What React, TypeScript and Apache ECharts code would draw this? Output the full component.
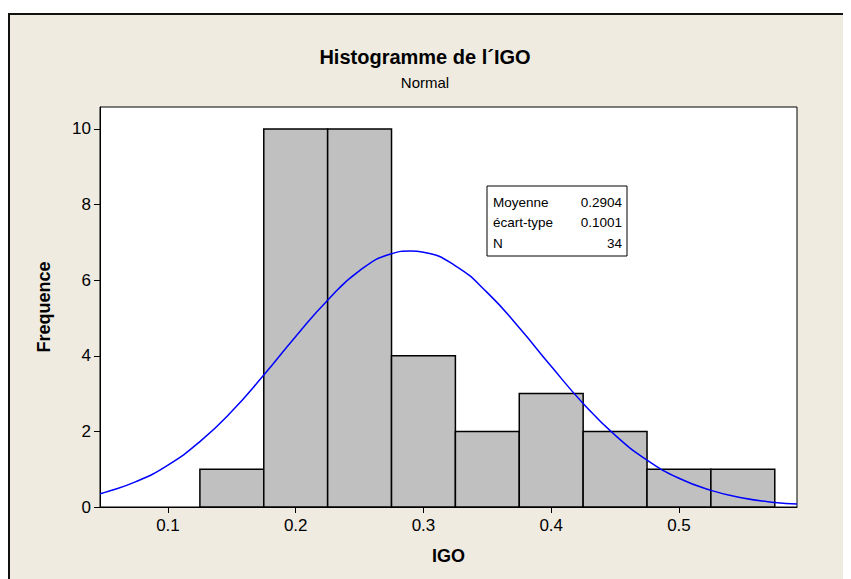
import React, { useEffect, useRef } from "react";
import * as echarts from "echarts";

const binStarts = [0.125, 0.175, 0.225, 0.275, 0.325, 0.375, 0.425, 0.475, 0.525];
const binWidth = 0.05;
const counts = [1, 10, 10, 4, 2, 3, 2, 1, 1];

const curveX = [0.0468, 0.05, 0.075, 0.1, 0.125, 0.15, 0.175, 0.2, 0.225, 0.25, 0.275, 0.29, 0.3, 0.325, 0.35, 0.375, 0.4, 0.425, 0.45, 0.475, 0.5, 0.525, 0.55, 0.575, 0.5924];
const curveY = [0.35, 0.38, 0.67, 1.11, 1.73, 2.53, 3.49, 4.51, 5.47, 6.25, 6.70, 6.77, 6.74, 6.38, 5.67, 4.74, 3.72, 2.74, 1.90, 1.24, 0.76, 0.44, 0.24, 0.12, 0.08];

const xTicks = [0.1, 0.2, 0.3, 0.4, 0.5];
const yTicks = [0, 2, 4, 6, 8, 10];

const statLabels = ["Moyenne", "écart-type", "N"];
const statValues = ["0.2904", "0.1001", "34"];

export default function App() {
  const ref = useRef<HTMLDivElement>(null);
  useEffect(() => {
    if (!ref.current) return;
    const chart = echarts.init(ref.current, null, { renderer: "svg" });
    const font = "'Liberation Sans', Arial, sans-serif";
    const bars = binStarts.map((s, i) => [s, s + binWidth, counts[i]]);
    const boxX = 479, boxY = 178, boxW = 140, boxH = 70;
    const statGraphics: any[] = [];
    statLabels.forEach((l, i) => {
      statGraphics.push({
        type: "text", x: boxX + 6, y: boxY + 16 + i * 20.5,
        style: { text: l, font: `13.5px ${font}`, fill: "#000", textVerticalAlign: "middle", textAlign: "left" },
      });
      statGraphics.push({
        type: "text", x: boxX + boxW - 5, y: boxY + 16 + i * 20.5,
        style: { text: statValues[i], font: `13.5px ${font}`, fill: "#000", textVerticalAlign: "middle", textAlign: "right" },
      });
    });
    chart.setOption({
      animation: false,
      backgroundColor: "#fff",
      graphic: [
        {
          type: "rect", z: -10, silent: true,
          shape: { x: 0, y: 5, width: 843, height: 566 },
          style: { fill: "#EFEBE1" },
        },
        { type: "line", z: -9, shape: { x1: 0, y1: 6, x2: 843, y2: 6 }, style: { stroke: "#111", lineWidth: 2 } },
        { type: "line", z: -9, shape: { x1: 1, y1: 5, x2: 1, y2: 571 }, style: { stroke: "#111", lineWidth: 2 } },
        {
          type: "text", x: 417, y: 49, z: 10,
          style: { text: "Histogramme de l´IGO", font: `bold 20px ${font}`, fill: "#000", textAlign: "center", textVerticalAlign: "middle" },
        },
        {
          type: "text", x: 417, y: 74, z: 10,
          style: { text: "Normal", font: `15px ${font}`, fill: "#000", textAlign: "center", textVerticalAlign: "middle" },
        },
        {
          type: "rect", z: 10, shape: { x: boxX, y: boxY, width: boxW, height: boxH },
          style: { fill: "#fff", stroke: "#000", lineWidth: 1 },
        },
        ...statGraphics.map((g) => ({ ...g, z: 11 })),
      ],
      grid: {
        left: 92, top: 99, right: 54, bottom: 72,
        show: true, backgroundColor: "#fff", borderColor: "#000", borderWidth: 1,
      },
      xAxis: {
        type: "value", min: 0.0468, max: 0.5924,
        name: "IGO", nameLocation: "middle", nameGap: 40,
        nameTextStyle: { fontFamily: font, fontWeight: "bold", fontSize: 18, color: "#000" },
        axisLine: { show: true, lineStyle: { color: "#000" } },
        axisTick: { show: true, length: 6, lineStyle: { color: "#000" }, customValues: xTicks },
        axisLabel: { fontFamily: font, fontSize: 17, color: "#000", margin: 10, customValues: xTicks, formatter: (v: number) => v.toFixed(1) },
        splitLine: { show: false },
      },
      yAxis: {
        type: "value", min: 0, max: 10.58,
        name: "Frequence", nameLocation: "middle", nameGap: 47,
        nameTextStyle: { fontFamily: font, fontWeight: "bold", fontSize: 18, color: "#000" },
        axisLine: { show: true, lineStyle: { color: "#000" } },
        axisTick: { show: true, length: 6, lineStyle: { color: "#000" }, customValues: yTicks },
        axisLabel: { fontFamily: font, fontSize: 17, color: "#000", margin: 9, customValues: yTicks },
        splitLine: { show: false },
      },
      series: [
        {
          type: "custom",
          data: bars,
          encode: { x: [0, 1], y: 2 },
          renderItem: (params: any, api: any) => {
            const p0 = api.coord([api.value(0), api.value(2)]);
            const p1 = api.coord([api.value(1), 0]);
            return {
              type: "rect",
              shape: { x: p0[0], y: p0[1], width: p1[0] - p0[0], height: p1[1] - p0[1] },
              style: { fill: "#C0C0C0", stroke: "#000", lineWidth: 1.5 },
            };
          },
          z: 2,
        },
        {
          type: "line",
          data: curveX.map((x, i) => [x, curveY[i]]),
          smooth: true,
          showSymbol: false,
          lineStyle: { color: "#0000FF", width: 1.5 },
          z: 3,
        },
      ],
    });
    return () => chart.dispose();
  }, []);
  return <div ref={ref} style={{ width: 843, height: 571 }} />;
}
